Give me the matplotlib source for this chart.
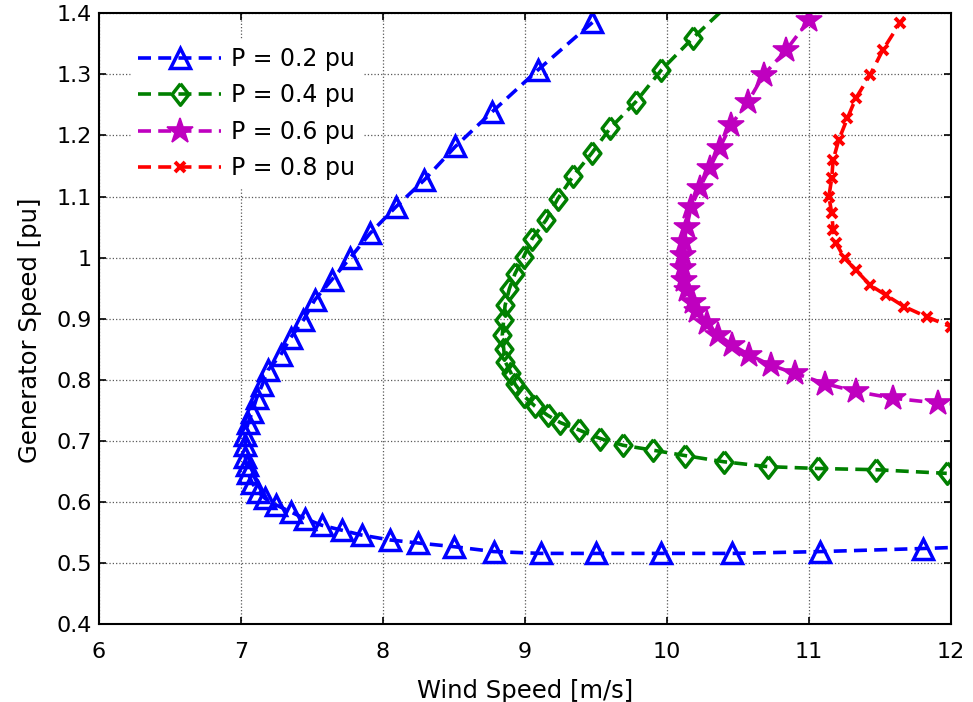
import matplotlib
matplotlib.use("Agg")
import matplotlib.pyplot as plt
import numpy as np

# ---- data ----
p02_x = [9.475, 9.09, 8.77, 8.51, 8.29, 8.09, 7.91, 7.77, 7.64, 7.52, 7.44, 7.35, 7.28, 7.19,
         7.15, 7.11, 7.08, 7.05, 7.03, 7.03, 7.03, 7.04, 7.05, 7.08, 7.12, 7.17, 7.25, 7.35,
         7.45, 7.57, 7.71, 7.85, 8.05, 8.25, 8.50, 8.78, 9.11, 9.50, 9.96, 10.46, 11.08, 11.80, 12.30]
p02_y = [1.385, 1.307, 1.239, 1.182, 1.127, 1.083, 1.040, 1.000, 0.964, 0.931, 0.898, 0.869, 0.841, 0.816,
         0.792, 0.770, 0.748, 0.729, 0.710, 0.694, 0.674, 0.661, 0.647, 0.631, 0.617, 0.606, 0.595, 0.584,
         0.573, 0.562, 0.554, 0.546, 0.538, 0.533, 0.527, 0.519, 0.516, 0.516, 0.516, 0.516, 0.519, 0.524, 0.528]

p04_x = [10.55, 10.18, 9.96, 9.78, 9.60, 9.47, 9.34, 9.23, 9.15, 9.05, 8.99, 8.93, 8.89, 8.86, 8.85,
         8.84, 8.85, 8.86, 8.90, 8.93, 8.99, 9.07, 9.16, 9.25, 9.38, 9.53, 9.69, 9.90, 10.13,
         10.40, 10.71, 11.06, 11.47, 11.97]
p04_y = [1.44, 1.359, 1.307, 1.255, 1.212, 1.171, 1.134, 1.096, 1.062, 1.031, 1.001, 0.974, 0.949, 0.922, 0.898,
         0.873, 0.851, 0.830, 0.812, 0.793, 0.774, 0.757, 0.742, 0.730, 0.718, 0.704, 0.693, 0.685, 0.676,
         0.666, 0.658, 0.655, 0.653, 0.647]

p06_x = [11.00, 10.84, 10.68, 10.57, 10.45, 10.37, 10.30, 10.23, 10.17, 10.14, 10.12, 10.11, 10.11,
         10.12, 10.14, 10.18, 10.21, 10.28, 10.36, 10.46, 10.58, 10.73, 10.90, 11.11, 11.33, 11.59,
         11.91, 12.25]
p06_y = [1.389, 1.340, 1.299, 1.255, 1.217, 1.179, 1.146, 1.114, 1.083, 1.051, 1.026, 1.004, 0.983,
         0.963, 0.947, 0.928, 0.912, 0.893, 0.874, 0.857, 0.841, 0.824, 0.811, 0.794, 0.781, 0.770,
         0.762, 0.758]

p08_x = [11.76, 11.64, 11.52, 11.43, 11.33, 11.27, 11.21, 11.17, 11.16, 11.14, 11.16, 11.17, 11.19,
         11.25, 11.33, 11.43, 11.54, 11.67, 11.83, 12.00, 12.15]
p08_y = [1.42, 1.384, 1.340, 1.299, 1.261, 1.228, 1.193, 1.160, 1.130, 1.100, 1.073, 1.045, 1.024,
         0.999, 0.980, 0.955, 0.939, 0.920, 0.903, 0.887, 0.877]

labels = ["P = 0.2 pu", "P = 0.4 pu", "P = 0.6 pu", "P = 0.8 pu"]
xticks = [6, 7, 8, 9, 10, 11, 12]
yticks = [0.4, 0.5, 0.6, 0.7, 0.8, 0.9, 1.0, 1.1, 1.2, 1.3, 1.4]
yticklabels = ["0.4", "0.5", "0.6", "0.7", "0.8", "0.9", "1", "1.1", "1.2", "1.3", "1.4"]

plt.rcParams['font.family'] = ['DejaVu Sans']

fig = plt.figure(figsize=(9.73, 7.02), dpi=100)
ax = fig.add_axes([0.1017, 0.1107, 0.8757, 0.8704])

diamond = [(0, 1), (0.78, 0), (0, -1), (-0.78, 0), (0, 1)]
dash = (3.6, 2.0)
lw = 2.6

ax.plot(p02_x, p02_y, color=(0, 0, 1), ls='--', dashes=dash, lw=lw, marker='^', ms=15,
        mfc='none', mew=2.5, label=labels[0])
ax.plot(p04_x, p04_y, color=(0, 0.5, 0), ls='--', dashes=dash, lw=lw, marker=diamond, ms=15.5,
        mfc='none', mew=2.5, label=labels[1])
ax.plot(p06_x, p06_y, color=(0.75, 0, 0.75), ls='--', dashes=dash, lw=lw, marker='*', ms=19,
        mfc=(0.75, 0, 0.75), mew=1.2, label=labels[2])
ax.plot(p08_x, p08_y, color=(1, 0, 0), ls='--', dashes=dash, lw=lw, marker='x', ms=6.5,
        mew=2.8, label=labels[3])

ax.set_xlim(6, 12)
ax.set_ylim(0.4, 1.4)
ax.set_xticks(xticks)
ax.set_xticklabels([str(v) for v in xticks])
ax.set_yticks(yticks)
ax.set_yticklabels(yticklabels)
ax.tick_params(direction='in', length=5, width=1.2, top=True, right=True, labelsize=16)
ax.tick_params(axis='x', pad=13)
ax.tick_params(axis='y', pad=5)
ax.grid(True, color='0.35', ls=':', lw=0.9)
for s in ax.spines.values():
    s.set_linewidth(1.5)

ax.set_xlabel("Wind Speed [m/s]", fontsize=17.5)
ax.set_ylabel("Generator Speed [pu]", fontsize=17.5)
ax.xaxis.set_label_coords(0.5, -0.089)
ax.yaxis.set_label_coords(-0.067, 0.482)

leg = ax.legend(loc='upper left', bbox_to_anchor=(0.024, 0.976), fontsize=17, frameon=True,
                edgecolor='white', facecolor='white', framealpha=1, fancybox=False,
                handlelength=3.5, handletextpad=0.42, labelspacing=0.53, borderpad=0.3)

fig.savefig("out.png", dpi=100)
